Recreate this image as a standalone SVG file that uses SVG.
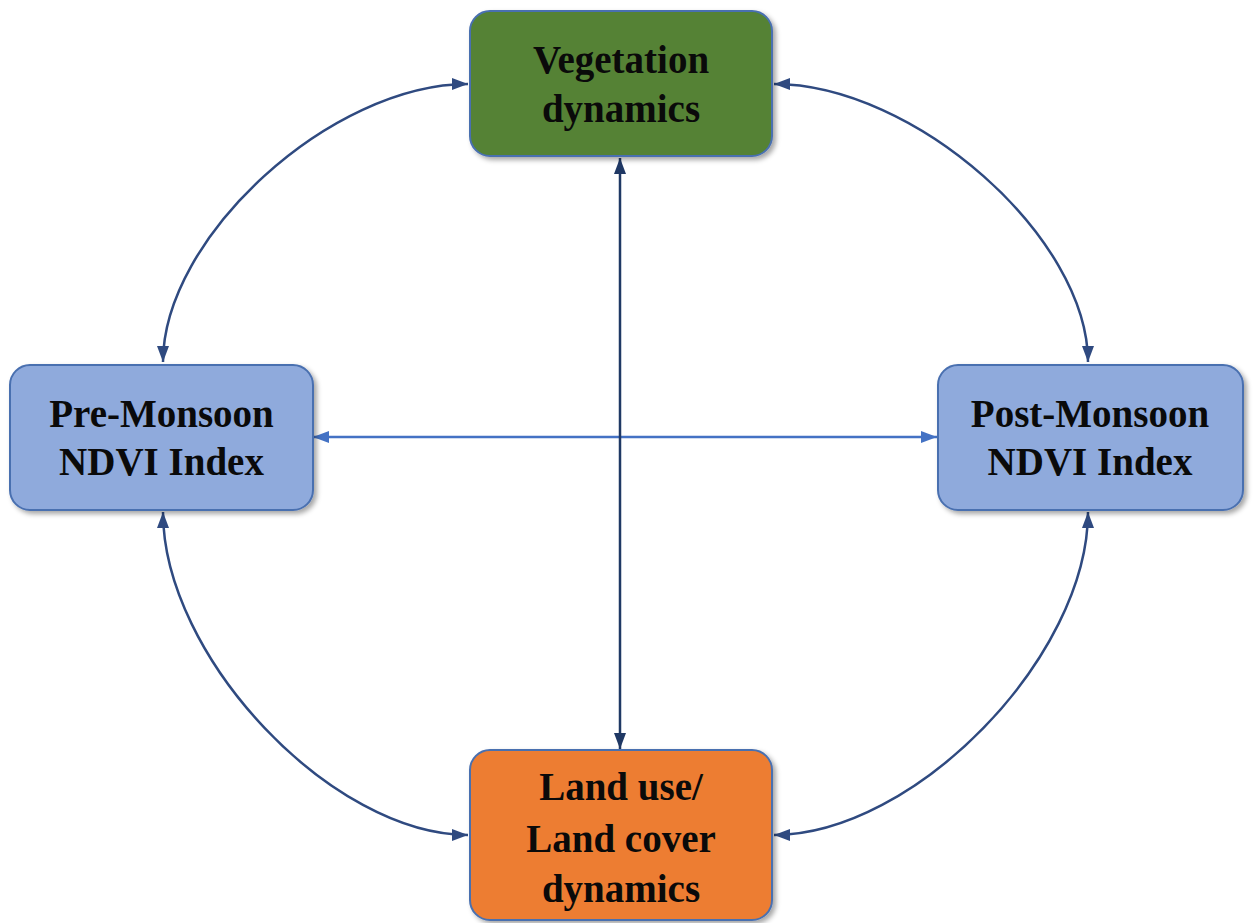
<svg xmlns="http://www.w3.org/2000/svg" width="1256" height="923" viewBox="0 0 1256 923">
  <defs>
    <filter id="shadow" x="-10%" y="-10%" width="125%" height="130%">
      <feDropShadow dx="3" dy="3" stdDeviation="2.5" flood-color="#000" flood-opacity="0.35"/>
    </filter>
    <marker id="arrowDark" viewBox="0 0 16 12" refX="16" refY="6" markerWidth="16" markerHeight="12" markerUnits="userSpaceOnUse" orient="auto-start-reverse">
      <path d="M0,0 L16,6 L0,12 Z" fill="#2F4A80"/>
    </marker>
    <marker id="arrowLight" viewBox="0 0 16 12" refX="16" refY="6" markerWidth="16" markerHeight="12" markerUnits="userSpaceOnUse" orient="auto-start-reverse">
      <path d="M0,0 L16,6 L0,12 Z" fill="#4472C4"/>
    </marker>
    <marker id="arrowNavy" viewBox="0 0 16 12" refX="16" refY="6" markerWidth="16" markerHeight="12" markerUnits="userSpaceOnUse" orient="auto-start-reverse">
      <path d="M0,0 L16,6 L0,12 Z" fill="#1F3864"/>
    </marker>
  </defs>
  <style>
    .box { stroke: #4A70B0; stroke-width: 2; filter: url(#shadow); }
    .label { font-family: "Liberation Serif", "Times New Roman", serif; font-weight: bold; font-size: 39px; fill: #0A0A0A; text-anchor: middle; }
    .arc { fill: none; stroke: #2F4A80; stroke-width: 2.5; marker-start: url(#arrowDark); marker-end: url(#arrowDark); }
  </style>
  <rect width="1256" height="923" fill="#FFFFFF"/>

  <!-- connectors -->
  <g id="connectors">
    <path class="arc" d="M468,84 C331,84 163,237 163,362"/>
    <path class="arc" d="M774,84 C914,84 1088,237 1088,362"/>
    <path class="arc" d="M163,512 C163,657 332,835 468,835"/>
    <path class="arc" d="M1088,512 C1088,657 914,835 774,835"/>
    <line x1="313" y1="437" x2="937" y2="437" stroke="#4472C4" stroke-width="2.5" marker-start="url(#arrowLight)" marker-end="url(#arrowLight)"/>
    <line x1="620" y1="158" x2="620" y2="749" stroke="#1F3864" stroke-width="2.5" marker-start="url(#arrowNavy)" marker-end="url(#arrowNavy)"/>
  </g>

  <!-- nodes -->
  <g id="vegetation">
    <rect class="box" x="470" y="11" width="302" height="145" rx="20" fill="#548235"/>
    <text class="label" x="621" y="73">Vegetation</text>
    <text class="label" x="621" y="122">dynamics</text>
  </g>
  <g id="pre-monsoon">
    <rect class="box" x="10" y="365" width="303" height="145" rx="20" fill="#8FAADC"/>
    <text class="label" x="161.5" y="427">Pre-Monsoon</text>
    <text class="label" x="161.5" y="475">NDVI Index</text>
  </g>
  <g id="post-monsoon">
    <rect class="box" x="938" y="365" width="305" height="145" rx="20" fill="#8FAADC"/>
    <text class="label" x="1090" y="427">Post-Monsoon</text>
    <text class="label" x="1090" y="475">NDVI Index</text>
  </g>
  <g id="landuse">
    <rect class="box" x="470" y="750" width="302" height="170" rx="20" fill="#ED7D31"/>
    <text class="label" x="621" y="800">Land use/</text>
    <text class="label" x="621" y="852">Land cover</text>
    <text class="label" x="621" y="902">dynamics</text>
  </g>
</svg>
